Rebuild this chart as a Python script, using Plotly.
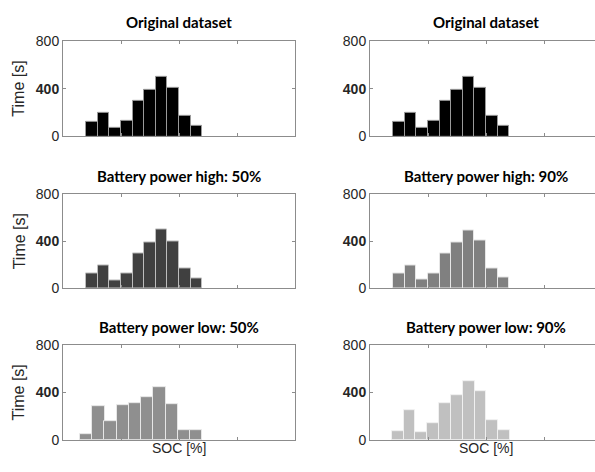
import plotly.graph_objects as go

# ---- data ----
titles = ["Original dataset", "Original dataset",
          "Battery power high: 50%", "Battery power high: 90%",
          "Battery power low: 50%", "Battery power low: 90%"]

soc_centers_std = [12.5, 17.5, 22.5, 27.5, 32.5, 37.5, 42.5, 47.5, 52.5, 57.5]
soc_centers_low50 = [10.0, 15.3, 20.5, 25.8, 31.1, 36.4, 41.6, 46.9, 52.2, 57.4]
soc_centers_low90 = [11.9, 17.0, 22.1, 27.2, 32.3, 37.4, 42.5, 47.6, 52.7, 57.8]

time_orig = [123, 195, 71, 128, 294, 388, 498, 407, 170, 89]
time_high50 = [123, 194, 70, 126, 295, 390, 500, 396, 165, 86]
time_high90 = [122, 195, 73, 127, 293, 388, 496, 407, 171, 89]
time_low50 = [52, 285, 156, 291, 308, 360, 447, 303, 80, 80]
time_low90 = [70, 250, 66, 140, 308, 379, 492, 408, 164, 80]

y_tickvals = [0, 400, 800]
y_ticktext = ["0", "<b>400</b>", "800"]

panels = [
    (soc_centers_std, time_orig, 5.0, "#000000", "#9a9a9a"),
    (soc_centers_std, time_orig, 5.0, "#000000", "#9a9a9a"),
    (soc_centers_std, time_high50, 5.0, "#404040", "#bdbdbd"),
    (soc_centers_std, time_high90, 5.0, "#808080", "#e6e6e6"),
    (soc_centers_low50, time_low50, 5.27, "#8f8f8f", "#e6e6e6"),
    (soc_centers_low90, time_low90, 5.1, "#c0c0c0", "#f0f0f0"),
]

W, H = 595, 472
col_px = [(63, 295), (370, 602)]
row_px = [(34, 133), (193, 290), (349, 447)]

fig = go.Figure()
frame = "#8c8c8c"
tickfont = dict(family="Liberation Sans, Arial, sans-serif", size=14, color="#262626")

for i, (xc, yv, wd, col, edge) in enumerate(panels):
    r, c = divmod(i, 2)
    n = i + 1
    xa = "x" if n == 1 else f"x{n}"
    ya = "y" if n == 1 else f"y{n}"
    fig.add_trace(go.Bar(x=xc, y=yv, width=wd, xaxis=xa, yaxis=ya,
                         marker=dict(color=col, line=dict(color=edge, width=1)),
                         showlegend=False))
    x0, x1 = col_px[c]
    full_range = 100.0
    if x1 > W:
        xr = [0, full_range * (W - x0) / (x1 - x0)]
        xdom = [x0 / W, 1.0]
    else:
        xr = [0, full_range]
        xdom = [x0 / W, x1 / W]
    y0, y1 = row_px[r]
    ydom = [1 - y1 / H, 1 - y0 / H]
    xkey = "xaxis" if n == 1 else f"xaxis{n}"
    ykey = "yaxis" if n == 1 else f"yaxis{n}"
    fig.layout[xkey] = dict(domain=xdom, range=xr, anchor=ya, showgrid=False,
                            zeroline=False, showline=True, linecolor=frame, linewidth=1,
                            mirror="ticks", ticks="inside", ticklen=3, tickcolor=frame,
                            tickvals=[0, 25, 50, 75, 100], showticklabels=False,
                            fixedrange=True)
    fig.layout[ykey] = dict(domain=ydom, range=[0, 800], anchor=xa, showgrid=False,
                            zeroline=False, showline=True, linecolor=frame, linewidth=1,
                            mirror="ticks" if c == 0 else False, ticks="inside",
                            ticklen=3, tickcolor=frame,
                            tickvals=y_tickvals, ticktext=y_ticktext,
                            tickfont=tickfont, fixedrange=True)
    fig.add_annotation(text=f"<b>{titles[i]}</b>", xref="paper", yref="paper",
                       x=((x0 + x1) / 2) / W, y=1 - (y0 - 19) / H,
                       xanchor="center", yanchor="middle", showarrow=False,
                       font=dict(family="Lato, sans-serif", size=15, color="#000000"))
    if c == 0:
        fig.add_annotation(text="Time [s]", xref="paper", yref="paper",
                           x=19 / W, y=1 - ((y0 + y1) / 2) / H, textangle=-90,
                           xanchor="center", yanchor="middle", showarrow=False,
                           font=dict(family="Liberation Sans, Arial, sans-serif", size=16,
                                     color="#262626"))
    if r == 2:
        fig.add_annotation(text="SOC [%]", xref="paper", yref="paper",
                           x=((x0 + x1) / 2) / W, y=1 - 455 / H,
                           xanchor="center", yanchor="middle", showarrow=False,
                           font=dict(family="Liberation Sans, Arial, sans-serif", size=14,
                                     color="#262626"))

fig.update_layout(width=W, height=H, margin=dict(l=0, r=0, t=0, b=0),
                  paper_bgcolor="white", plot_bgcolor="white", bargap=0)
fig.write_html("out.html")
